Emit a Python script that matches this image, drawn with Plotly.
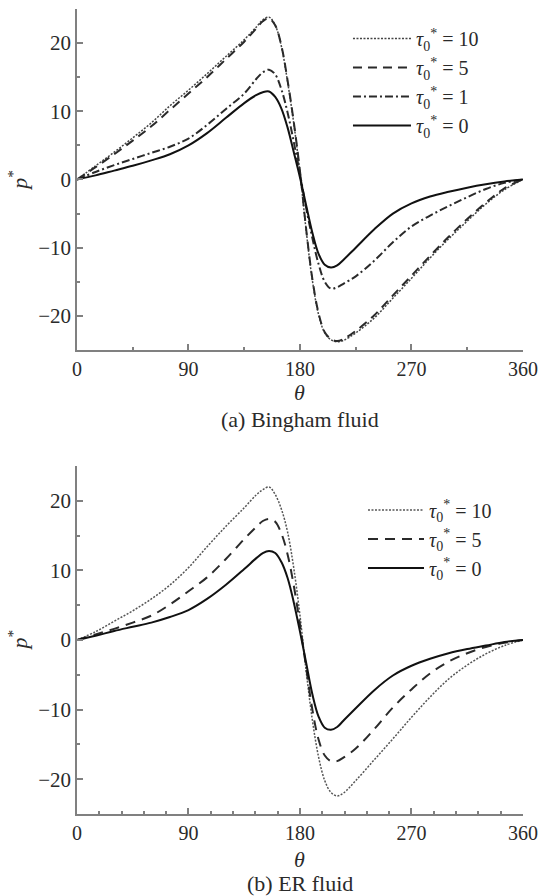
import plotly.graph_objs as go

# angle grid (degrees) shared by all curves
theta = [0, 15, 30, 45, 60, 75, 90, 105, 120, 135, 145, 150, 155, 160, 165, 170,
         175, 180, 185, 190, 195, 200, 205, 210, 215, 225, 240, 255, 270, 285,
         300, 315, 330, 345, 360]

# (a) Bingham fluid
bingham_10 = [0, 2.0, 4.0, 6.1, 8.3, 10.8, 13.1, 15.5, 18.0, 20.5, 22.4, 23.4, 23.8,
              22.6, 19.5, 14.3, 8.2, 1.0, -7.5, -14.8, -19.8, -22.5, -23.5, -23.8,
              -23.6, -22.5, -20.3, -17.4, -14.5, -11.5, -8.7, -6.1, -3.6, -1.5, 0]
bingham_5 = [0, 1.8, 3.7, 5.7, 7.8, 10.2, 12.6, 15.0, 17.6, 20.2, 22.2, 23.2, 23.6,
             22.6, 19.6, 14.5, 8.4, 1.2, -7.3, -14.6, -19.6, -22.4, -23.4, -23.7,
             -23.4, -22.2, -19.9, -17.0, -14.1, -11.2, -8.4, -5.8, -3.4, -1.3, 0]
bingham_1 = [0, 1.1, 2.1, 3.0, 3.9, 4.8, 6.0, 8.0, 10.3, 12.6, 14.8, 15.7, 16.1,
             15.4, 13.2, 9.8, 5.5, 0.8, -4.2, -8.6, -12.4, -15.0, -16.0, -15.8,
             -15.3, -14.2, -11.9, -9.2, -6.9, -5.3, -3.9, -2.6, -1.4, -0.5, 0]
bingham_0 = [0, 0.6, 1.3, 2.0, 2.8, 3.7, 5.0, 6.8, 9.0, 11.2, 12.4, 12.8, 12.9,
             12.1, 10.4, 7.6, 4.0, 0.3, -3.8, -7.8, -10.9, -12.5, -12.9, -12.6,
             -11.8, -10.0, -7.3, -5.0, -3.5, -2.5, -1.8, -1.2, -0.7, -0.3, 0]

# (b) ER fluid
er_10 = [0, 1.2, 2.7, 4.2, 5.9, 7.9, 10.4, 13.4, 16.3, 19.0, 20.9, 21.6, 22.0,
         20.9, 18.8, 15.5, 10.3, 3.5, -4.5, -11.5, -16.8, -20.2, -21.9, -22.4,
         -22.0, -20.2, -17.2, -14.2, -11.1, -8.2, -5.6, -3.6, -2.0, -0.8, 0]
er_5 = [0, 0.8, 1.6, 2.5, 3.5, 5.1, 7.0, 9.0, 11.6, 14.5, 16.3, 17.1, 17.4,
        17.0, 15.3, 12.3, 7.8, 2.2, -4.0, -10.0, -14.3, -16.6, -17.4, -17.4,
        -16.9, -15.6, -12.8, -9.7, -7.1, -4.8, -3.1, -1.9, -1.0, -0.4, 0]
er_0 = [0, 0.6, 1.3, 1.9, 2.5, 3.3, 4.3, 5.9, 7.9, 10.2, 11.8, 12.5, 12.8,
        12.5, 11.2, 8.9, 5.4, 1.2, -3.3, -7.8, -11.0, -12.6, -12.9, -12.5,
        -11.6, -9.8, -7.2, -5.1, -3.7, -2.7, -1.9, -1.3, -0.8, -0.3, 0]

x_ticks = [0, 90, 180, 270, 360]
y_ticks = [-20, -10, 0, 10, 20]
y_labels = ['\u221220', '\u221210', '0', '10', '20']

FONT = 'Liberation Serif'
INK = '#2a2a2a'
AXIS = '#808080'


def label(t):
    return '<i>\u03c4</i><sub>0</sub><sup>*</sup> = ' + t


def main():
    fig = go.Figure()

    top = [
        (bingham_10, label('10'), dict(color='#444', width=1.5, dash='2px,1.5px')),
        (bingham_5, label('5'), dict(color=INK, width=2, dash='9px,6px')),
        (bingham_1, label('1'), dict(color=INK, width=2, dash='8px,3px,2px,3px')),
        (bingham_0, label('0'), dict(color='#111', width=2)),
    ]
    for ys, name, ln in top:
        fig.add_trace(go.Scatter(
            x=theta, y=ys, name=name, mode='lines', line=ln,
            line_shape='spline', xaxis='x', yaxis='y', legend='legend',
            hoverinfo='none',
        ))

    bottom = [
        (er_10, label('10'), dict(color='#555', width=1.5, dash='2px,1.5px')),
        (er_5, label('5'), dict(color=INK, width=2, dash='10px,7px')),
        (er_0, label('0'), dict(color='#111', width=2)),
    ]
    for ys, name, ln in bottom:
        fig.add_trace(go.Scatter(
            x=theta, y=ys, name=name, mode='lines', line=ln,
            line_shape='spline', xaxis='x2', yaxis='y2', legend='legend2',
            hoverinfo='none',
        ))

    xax = dict(
        range=[0, 360], tickvals=x_ticks, showline=True, linecolor=AXIS,
        linewidth=1.5, ticks='inside', ticklen=6, tickwidth=1.5, tickcolor=AXIS,
        showgrid=False, zeroline=False, domain=[0.1431, 0.9721], automargin=False,
        ticklabeloverflow='allow',
        tickfont=dict(family=FONT, size=20, color=INK),
    )
    yax = dict(
        range=[-25, 25], tickvals=y_ticks, ticktext=y_labels, showline=True,
        linecolor=AXIS, linewidth=1.5, ticks='inside', ticklen=6, tickwidth=1.5,
        tickcolor=AXIS, showgrid=False, zeroline=False, automargin=False,
        minor=dict(dtick=5, tick0=0, ticklen=3, tickcolor=AXIS, ticks='inside'),
        tickfont=dict(family=FONT, size=21, color=INK),
    )

    fig.update_layout(
        width=538, height=896,
        margin=dict(l=0, r=0, t=0, b=0),
        plot_bgcolor='white', paper_bgcolor='white',
        xaxis=dict(xax, anchor='y',
                   minor=dict(dtick=45, tick0=0, ticklen=3, tickcolor=AXIS, ticks='inside')),
        yaxis=dict(yax, anchor='x', domain=[0.6094, 0.9900]),
        xaxis2=dict(xax, anchor='y2',
                    minor=dict(dtick=18, tick0=0, ticklen=3, tickcolor=AXIS, ticks='inside')),
        yaxis2=dict(yax, anchor='x2', domain=[0.0915, 0.4799]),
        legend=dict(x=0.6468, y=0.9787, xanchor='left', yanchor='top',
                    bgcolor='rgba(0,0,0,0)', itemwidth=58, tracegroupgap=0,
                    font=dict(family=FONT, size=20, color=INK)),
        legend2=dict(x=0.6747, y=0.4527, xanchor='left', yanchor='top',
                     bgcolor='rgba(0,0,0,0)', itemwidth=56,
                     font=dict(family=FONT, size=20, color=INK)),
        showlegend=True,
    )

    notes = [
        (0.033, 0.799, '<i>p</i><sup>*</sup>', -90),
        (0.5576, 0.5614, '<i>\u03b8</i>', 0),
        (0.5576, 0.5313, '(a) Bingham fluid', 0),
        (0.033, 0.286, '<i>p</i><sup>*</sup>', -90),
        (0.5576, 0.0402, '<i>\u03b8</i>', 0),
        (0.5576, 0.0135, '(b) ER fluid', 0),
    ]
    for x, y, t, ang in notes:
        fig.add_annotation(x=x, y=y, xref='paper', yref='paper', text=t,
                           showarrow=False, textangle=ang,
                           xanchor='center', yanchor='middle',
                           font=dict(family=FONT, size=22, color=INK))

    # page body has a default 8px margin; drop it so the figure fills the window
    fig.write_html('out.html', config={'displayModeBar': False},
                   post_script="document.body.style.margin='0';")


if __name__ == '__main__':
    main()
